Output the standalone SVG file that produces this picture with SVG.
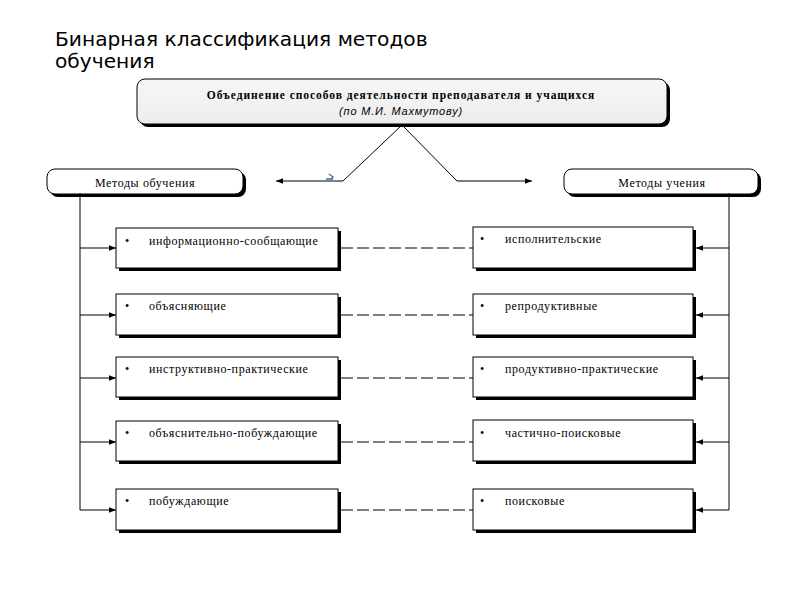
<svg xmlns="http://www.w3.org/2000/svg" width="800" height="600" viewBox="0 0 800 600">
<defs>
<marker id="ah" viewBox="0 0 10 10" refX="10" refY="5" markerWidth="7" markerHeight="7" markerUnits="userSpaceOnUse" orient="auto">
<path d="M0,1 L10,5 L0,9 Z" fill="#000"/>
</marker>
<linearGradient id="g" x1="0" y1="0" x2="0" y2="1">
<stop offset="0" stop-color="#f7f7f7"/>
<stop offset="1" stop-color="#ececec"/>
</linearGradient>
</defs>
<style>
.title{font-family:"DejaVu Sans",sans-serif;font-size:20.2px;fill:#000}
.shadow{fill:#000}
.box{fill:#fff;stroke:#000;stroke-width:1}
.lbl{font-family:"Liberation Serif",serif;font-size:12px;letter-spacing:0.6px;fill:#000}
.hdr{font-family:"Liberation Serif",serif;font-size:12px;letter-spacing:0.6px;fill:#000;text-anchor:middle}
.ln{stroke:#000;stroke-width:1;fill:none}
.dash{stroke:#000;stroke-width:1;stroke-dasharray:12,4;fill:none}
</style>
<rect width="800" height="600" fill="#fff"/>
<text class="title" x="55" y="46">Бинарная классификация методов</text>
<text class="title" x="55" y="68">обучения</text>

<g id="top">
<rect class="shadow" x="140" y="82" width="530" height="45" rx="8"/>
<rect x="137" y="79" width="530" height="45" rx="8" fill="url(#g)" stroke="#000"/>
<text x="401" y="99" text-anchor="middle" font-family="Liberation Serif,serif" font-size="11.5" font-weight="bold" letter-spacing="0.95">Объединение способов деятельности преподавателя и учащихся</text>
<text x="401" y="115" text-anchor="middle" font-family="Liberation Sans,sans-serif" font-size="11" font-style="italic" letter-spacing="0.8">(по М.И. Махмутову)</text>
</g>

<g id="left-header">
<rect class="shadow" x="50" y="172" width="196" height="25" rx="8"/>
<rect class="box" x="47" y="169" width="196" height="25" rx="8"/>
<text class="hdr" x="145" y="187">Методы обучения</text>
</g>
<g id="right-header">
<rect class="shadow" x="567" y="172" width="194" height="25" rx="8"/>
<rect class="box" x="564" y="169" width="194" height="25" rx="8"/>
<text class="hdr" x="662" y="187">Методы учения</text>
</g>

<g id="connectors">
<polyline class="ln" points="343,181 402,125 457,181"/>
<line class="ln" x1="343" y1="181" x2="276" y2="181" marker-end="url(#ah)"/>
<line class="ln" x1="457" y1="181" x2="532" y2="181" marker-end="url(#ah)"/>
<path d="M329,174 l4,3 -3,3 M326,179 h7" stroke="#4a6fa5" stroke-width="1.3" fill="none"/>
<polyline class="ln" points="80,193 80,510"/>
<polyline class="ln" points="729,193 729,510"/>
<line class="ln" x1="80" y1="248" x2="116" y2="248" marker-end="url(#ah)"/>
<line class="ln" x1="80" y1="315" x2="116" y2="315" marker-end="url(#ah)"/>
<line class="ln" x1="80" y1="378" x2="116" y2="378" marker-end="url(#ah)"/>
<line class="ln" x1="80" y1="442" x2="116" y2="442" marker-end="url(#ah)"/>
<line class="ln" x1="80" y1="510" x2="116" y2="510" marker-end="url(#ah)"/>
<line class="ln" x1="729" y1="248" x2="696" y2="248" marker-end="url(#ah)"/>
<line class="ln" x1="729" y1="315" x2="696" y2="315" marker-end="url(#ah)"/>
<line class="ln" x1="729" y1="378" x2="696" y2="378" marker-end="url(#ah)"/>
<line class="ln" x1="729" y1="442" x2="696" y2="442" marker-end="url(#ah)"/>
<line class="ln" x1="729" y1="510" x2="696" y2="510" marker-end="url(#ah)"/>
<line class="dash" x1="341" y1="248" x2="473" y2="248"/>
<line class="dash" x1="341" y1="315" x2="473" y2="315"/>
<line class="dash" x1="341" y1="378" x2="473" y2="378"/>
<line class="dash" x1="341" y1="442" x2="473" y2="442"/>
<line class="dash" x1="341" y1="510" x2="473" y2="510"/>
</g>

<g id="l1"><rect class="shadow" x="119" y="231" width="222" height="40"/><rect class="box" x="116" y="228" width="222" height="40"/><text class="lbl" x="125" y="245">•</text><text class="lbl" x="149" y="245">информационно-сообщающие</text></g>
<g id="l2"><rect class="shadow" x="119" y="297" width="222" height="41"/><rect class="box" x="116" y="294" width="222" height="41"/><text class="lbl" x="125" y="310">•</text><text class="lbl" x="149" y="310">объясняющие</text></g>
<g id="l3"><rect class="shadow" x="119" y="360" width="222" height="40"/><rect class="box" x="116" y="357" width="222" height="40"/><text class="lbl" x="125" y="373">•</text><text class="lbl" x="149" y="373">инструктивно-практические</text></g>
<g id="l4"><rect class="shadow" x="119" y="424" width="222" height="40"/><rect class="box" x="116" y="421" width="222" height="40"/><text class="lbl" x="125" y="437">•</text><text class="lbl" x="149" y="437">объяснительно-побуждающие</text></g>
<g id="l5"><rect class="shadow" x="119" y="492" width="222" height="41"/><rect class="box" x="116" y="489" width="222" height="41"/><text class="lbl" x="125" y="505">•</text><text class="lbl" x="149" y="505">побуждающие</text></g>

<g id="r1"><rect class="shadow" x="476" y="230" width="220" height="41"/><rect class="box" x="473" y="227" width="220" height="41"/><text class="lbl" x="480" y="243">•</text><text class="lbl" x="505" y="243">исполнительские</text></g>
<g id="r2"><rect class="shadow" x="476" y="297" width="220" height="41"/><rect class="box" x="473" y="294" width="220" height="41"/><text class="lbl" x="480" y="310">•</text><text class="lbl" x="505" y="310">репродуктивные</text></g>
<g id="r3"><rect class="shadow" x="476" y="360" width="220" height="40"/><rect class="box" x="473" y="357" width="220" height="40"/><text class="lbl" x="480" y="373">•</text><text class="lbl" x="505" y="373">продуктивно-практические</text></g>
<g id="r4"><rect class="shadow" x="476" y="423" width="220" height="41"/><rect class="box" x="473" y="420" width="220" height="41"/><text class="lbl" x="480" y="437">•</text><text class="lbl" x="505" y="437">частично-поисковые</text></g>
<g id="r5"><rect class="shadow" x="476" y="492" width="220" height="41"/><rect class="box" x="473" y="489" width="220" height="41"/><text class="lbl" x="480" y="505">•</text><text class="lbl" x="505" y="505">поисковые</text></g>
</svg>
